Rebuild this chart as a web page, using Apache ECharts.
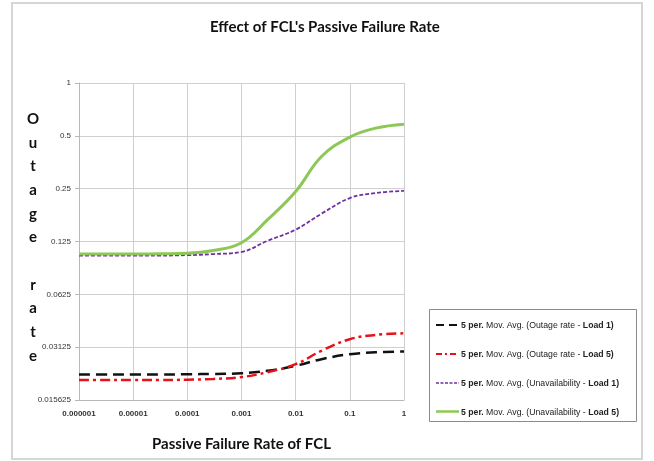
<!DOCTYPE html>
<html>
<head>
<meta charset="utf-8">
<script src="https://cdn.jsdelivr.net/npm/echarts@6/dist/echarts.min.js"></script>
<style>html,body{margin:0;padding:0;background:#fff}#c{width:654px;height:461px}</style>
</head>
<body>
<div id="c"></div>
<script>
var xValues = [0.000001, 0.000003, 0.00001, 0.00003, 0.0001, 0.0003, 0.001, 0.003, 0.01, 0.03, 0.1, 0.3, 1];
var xTickLabels = ['0.000001', '0.00001', '0.0001', '0.001', '0.01', '0.1', '1'];
var yTickLabels = ['0.015625', '0.03125', '0.0625', '0.125', '0.25', '0.5', '1'];
var seriesNames = [
  '5 per. Mov. Avg. (Outage rate - Load 1)',
  '5 per. Mov. Avg. (Outage rate - Load 5)',
  '5 per. Mov. Avg. (Unavailability - Load 1)',
  '5 per. Mov. Avg. (Unavailability - Load 5)'
];
var outageLoad1 = [0.0218, 0.0218, 0.0218, 0.0218, 0.0219, 0.0220, 0.0222, 0.0229, 0.0245, 0.0267, 0.0285, 0.0292, 0.0295];
var outageLoad5 = [0.0203, 0.0203, 0.0203, 0.0203, 0.0204, 0.0206, 0.0211, 0.0225, 0.0250, 0.0298, 0.0347, 0.0367, 0.0375];
var unavailLoad1 = [0.104, 0.104, 0.104, 0.104, 0.1045, 0.106, 0.109, 0.126, 0.146, 0.180, 0.221, 0.236, 0.243];
var unavailLoad5 = [0.106, 0.106, 0.106, 0.1065, 0.107, 0.111, 0.123, 0.166, 0.241, 0.381, 0.492, 0.553, 0.582];

function pairs(ys) { return xValues.map(function (x, i) { return [x, ys[i]]; }); }

var chart = echarts.init(document.getElementById('c'), null, {renderer: 'canvas'});
var styles = [
  {color: '#111111', width: 2.5, type: [11, 6]},
  {color: '#e8101a', width: 2.5, type: [10, 4, 3, 4]},
  {color: '#7030a0', width: 1.8, type: [4, 2]},
  {color: '#8cc855', width: 3, type: 'solid'}
];
var datas = [outageLoad1, outageLoad5, unavailLoad1, unavailLoad5];
var series = datas.map(function (d, i) {
  return {
    name: seriesNames[i], type: 'line', data: pairs(d), smooth: 0.4,
    symbol: 'none', showSymbol: false,
    lineStyle: {color: styles[i].color, width: styles[i].width, type: styles[i].type},
    itemStyle: {color: styles[i].color},
    z: 3 + i
  };
});

// legend sample lines (drawn next to the legend texts)
var legendRowsY = [325, 354, 383, 411.5];
var legendSamples = styles.map(function (s, i) {
  return {
    type: 'line', silent: true, z: 10,
    shape: {x1: 436, y1: legendRowsY[i], x2: 459, y2: legendRowsY[i]},
    style: {stroke: s.color, lineWidth: s.width - 0.5, lineDash: s.type === 'solid' ? null : (i === 1 ? [6, 3, 2, 3] : (i === 0 ? [8, 5] : [3, 1.5]))}
  };
});

var option = {
  animation: false,
  backgroundColor: '#ffffff',
  title: {
    text: "Effect of FCL's Passive Failure Rate",
    left: 205, top: 15,
    textStyle: {fontFamily: 'Lato', fontWeight: 'bold', fontSize: 15, color: '#111'}
  },
  grid: {left: 79, right: 250, top: 83, bottom: 61, containLabel: false},
  legend: {
    orient: 'vertical', left: 431, top: 314, itemWidth: 23, itemHeight: 14, itemGap: 17.5,
    data: seriesNames.map(function (n) { return {name: n, icon: 'none'}; }),
    formatter: function (n) {
      var m = n.match(/^(5 per\.)(.*- )(Load \d\))$/);
      return '{b|' + m[1] + '}{a|' + m[2] + '}{b|' + m[3] + '}';
    },
    textStyle: {
      padding: [0, 0, 0, -3],
      rich: {
        a: {fontFamily: 'Liberation Sans', fontSize: 8.7, color: '#222'},
        b: {fontFamily: 'Liberation Sans', fontSize: 8.7, fontWeight: 'bold', color: '#222'}
      }
    }
  },
  xAxis: {
    type: 'log', logBase: 10, min: 0.000001, max: 1,
    name: 'Passive Failure Rate of FCL', nameLocation: 'middle', nameGap: 37,
    nameTextStyle: {fontFamily: 'Lato', fontWeight: 'bold', fontSize: 15, color: '#111'},
    axisLine: {show: true, lineStyle: {color: '#b8b8b8', width: 1}},
    axisTick: {show: false},
    axisLabel: {
      margin: 10, fontFamily: 'Liberation Sans', fontSize: 8, fontWeight: 'bold', color: '#333',
      formatter: function (v) { return xTickLabels[Math.round(Math.log10(v)) + 6]; }
    },
    splitLine: {show: true, showMinLine: true, showMaxLine: true, lineStyle: {color: '#cfcfcf', width: 1}},
    minorTick: {show: false}
  },
  yAxis: {
    type: 'log', logBase: 2, min: 0.015625, max: 1, interval: 1, splitNumber: 6,
    name: 'O\nu\nt\na\ng\ne\n\nr\na\nt\ne\n{s| }', nameLocation: 'middle', nameRotate: 0, nameGap: 46,
    nameMoveOverlap: false,
    nameTextStyle: {
      fontFamily: 'Lato', fontWeight: 'bold', fontSize: 15, color: '#111', lineHeight: 23.7, align: 'center',
      rich: {s: {fontSize: 1, lineHeight: 8, height: 8}}
    },
    axisLine: {show: true, lineStyle: {color: '#b8b8b8', width: 1}},
    axisTick: {show: true, inside: false, length: 4, lineStyle: {color: '#b8b8b8'}},
    axisLabel: {
      margin: 8, fontFamily: 'Liberation Sans', fontSize: 8, color: '#333',
      formatter: function (v) { return yTickLabels[Math.round(Math.log2(v)) + 6]; }
    },
    splitLine: {show: true, showMinLine: true, showMaxLine: true, lineStyle: {color: '#cfcfcf', width: 1}}
  },
  graphic: [
    {type: 'rect', shape: {x: 12, y: 3, width: 630, height: 456}, style: {fill: null, stroke: '#d6d6d6', lineWidth: 2}, z: -10, silent: true},
    {type: 'rect', shape: {x: 429.5, y: 309.5, width: 207, height: 112}, style: {fill: '#fff', stroke: '#8a8a8a', lineWidth: 1}, z: -1, silent: true}
  ].concat(legendSamples),
  series: series
};
chart.setOption(option);
</script>
</body>
</html>
